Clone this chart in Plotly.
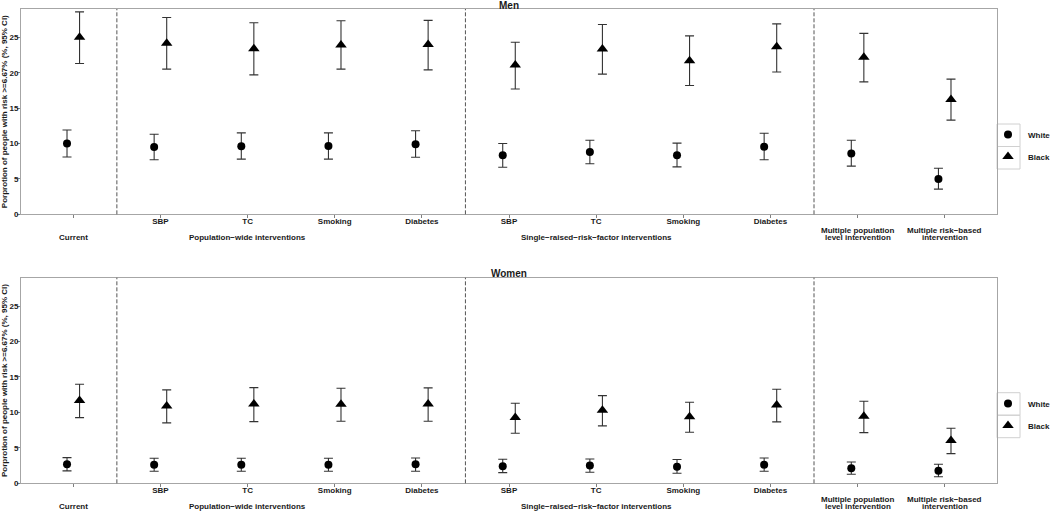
import plotly.graph_objects as go

# x categories (first tick line), in plot order
tick_labels = ["", "SBP", "TC", "Smoking", "Diabetes", "SBP", "TC", "Smoking", "Diabetes", "", ""]
# extra label lines under the ticks: (category index, line number, text)
extra_labels = [
    (0, 3, "Current"),
    (2, 3, "Population\u2212wide interventions"),
    (6, 3, "Single\u2212raised\u2212risk\u2212factor interventions"),
    (9, 2, "Multiple population"),
    (9, 3, "level intervention"),
    (10, 2, "Multiple risk\u2212based"),
    (10, 3, "intervention"),
]
group_breaks = [0.5, 4.5, 8.5]

# Men
men_white = [10.0, 9.5, 9.6, 9.65, 9.9, 8.33, 8.8, 8.33, 9.55, 8.6, 5.0]
men_white_lo = [8.1, 7.7, 7.8, 7.8, 8.05, 6.65, 7.15, 6.7, 7.7, 6.8, 3.55]
men_white_hi = [11.9, 11.3, 11.5, 11.5, 11.8, 10.0, 10.45, 10.05, 11.45, 10.45, 6.5]
men_black = [25.0, 24.15, 23.4, 23.9, 24.0, 21.1, 23.35, 21.7, 23.65, 22.2, 16.2]
men_black_lo = [21.3, 20.5, 19.7, 20.5, 20.4, 17.7, 19.8, 18.2, 20.1, 18.7, 13.3]
men_black_hi = [28.6, 27.8, 27.05, 27.35, 27.4, 24.3, 26.8, 25.2, 26.9, 25.55, 19.1]

# Women
women_white = [2.7, 2.63, 2.63, 2.63, 2.68, 2.4, 2.5, 2.35, 2.63, 2.12, 1.78]
women_white_lo = [1.75, 1.7, 1.7, 1.7, 1.7, 1.5, 1.55, 1.42, 1.7, 1.27, 0.93]
women_white_hi = [3.62, 3.53, 3.53, 3.53, 3.57, 3.4, 3.43, 3.35, 3.57, 3.0, 2.68]
women_black = [11.67, 10.92, 11.2, 11.15, 11.2, 9.27, 10.3, 9.4, 11.06, 9.46, 6.02]
women_black_lo = [9.27, 8.52, 8.7, 8.75, 8.75, 7.06, 8.1, 7.2, 8.66, 7.15, 4.18]
women_black_hi = [13.98, 13.18, 13.5, 13.4, 13.46, 11.3, 12.37, 11.43, 13.27, 11.58, 7.77]

y_title = "Porprotion of people with risk >=6.67% (%, 95% CI)"

W, H = 1050, 512
FONT = "Liberation Sans"
TXT = "#1a1a1a"
dodge = 0.072
line_offsets = {2: 16.0, 3: 23.5}  # px below the axis line

panels = [
    ("Men", "x", "y", "legend", men_white, men_white_lo, men_white_hi,
     men_black, men_black_lo, men_black_hi),
    ("Women", "x2", "y2", "legend2", women_white, women_white_lo, women_white_hi,
     women_black, women_black_lo, women_black_hi),
]

fig = go.Figure()
idx = list(range(len(tick_labels)))

for name, xa, ya, leg, wm, wl, wh, bm, bl, bh in panels:
    for race, m, lo, hi, sym, size, off in [
        ("White", wm, wl, wh, "circle", 8, -dodge),
        ("Black", bm, bl, bh, "triangle-up", 10, dodge),
    ]:
        fig.add_trace(go.Scatter(
            x=[i + off for i in idx], y=m, mode="markers",
            xaxis=xa, yaxis=ya, name=race, legend=leg,
            legendgroup=name + race,
            marker=dict(symbol=sym, size=size, color="black"),
            error_y=dict(type="data", symmetric=False,
                         array=[h - v for h, v in zip(hi, m)],
                         arrayminus=[v - l for v, l in zip(m, lo)],
                         color="#333333", thickness=1.1, width=4.5),
        ))

# panel geometry (px from top)
top_box = (9, 214.3)
bot_box = (277.7, 483.3)
xdom = [21 / W, 997 / W]


def ydom(b):
    return [1 - b[1] / H, 1 - b[0] / H]


axis_common = dict(showline=True, mirror=True, linecolor="#a6a6a6", linewidth=1,
                   showgrid=False, zeroline=False, ticks="outside", ticklen=3,
                   tickcolor="#7f7f7f",
                   tickfont=dict(family=FONT, size=8, color=TXT, weight="bold"))

leg_common = dict(xanchor="left", yanchor="top", traceorder="grouped",
                  tracegroupgap=3, itemwidth=30, bgcolor="rgba(0,0,0,0)",
                  font=dict(family=FONT, size=8, color=TXT, weight="bold"))

fig.update_layout(
    width=W, height=H,
    margin=dict(l=0, r=0, t=0, b=0, autoexpand=False),
    plot_bgcolor="white", paper_bgcolor="white",
    xaxis=dict(domain=xdom, anchor="y", range=[-0.6, 10.6], ticklabelstandoff=-4,
               tickvals=idx, ticktext=tick_labels, **axis_common),
    yaxis=dict(domain=ydom(top_box), anchor="x", range=[0, 29], ticklabelstandoff=-3,
               tickvals=[0, 5, 10, 15, 20, 25], **axis_common),
    xaxis2=dict(domain=xdom, anchor="y2", range=[-0.6, 10.6], ticklabelstandoff=-4,
                tickvals=idx, ticktext=tick_labels, **axis_common),
    yaxis2=dict(domain=ydom(bot_box), anchor="x2", range=[0, 29], ticklabelstandoff=-3,
                tickvals=[0, 5, 10, 15, 20, 25], **axis_common),
    legend=dict(x=988 / W, y=1 - 120 / H, **leg_common),
    legend2=dict(x=988 / W, y=1 - 389 / H, **leg_common),
)

lab_font = dict(family=FONT, size=8, color=TXT, weight="bold")
for (name, xa, ya, *_), box in zip(panels, [top_box, bot_box]):
    # dashed separators between intervention groups
    for b in group_breaks:
        fig.add_shape(type="line", xref=xa, yref=ya + " domain", x0=b, x1=b, y0=0, y1=1,
                      line=dict(color="#555555", width=1, dash="4px,2px"))
    # panel title
    fig.add_annotation(text=name, xref=xa + " domain", yref=ya + " domain", x=0.5, y=1,
                       yanchor="middle", yshift=4, showarrow=False,
                       font=dict(family=FONT, size=10, color=TXT, weight="bold"))
    # y-axis title
    fig.add_annotation(text=y_title, xref="paper", yref=ya + " domain", x=4.5 / W, y=0.5,
                       textangle=-90, showarrow=False, xanchor="center", yanchor="middle",
                       font=lab_font)
    # second and third label lines
    for i, line, t in extra_labels:
        fig.add_annotation(text=t, xref=xa, yref=ya + " domain", x=i, y=0,
                           yanchor="middle", yshift=-line_offsets[line],
                           showarrow=False, font=lab_font)
    # legend key boxes
    ltop = box[0] + 115
    for k in range(2):
        fig.add_shape(type="rect", xref="paper", yref="paper",
                      x0=997 / W, x1=1020 / W,
                      y0=1 - (ltop + 22.5 * (k + 1)) / H, y1=1 - (ltop + 22.5 * k) / H,
                      line=dict(color="#d0d0d0", width=1), layer="below")

fig.write_html(
    "out.html",
    config={"displayModeBar": False},
    post_script=("document.body.style.margin='0';"
                 "document.documentElement.style.overflow='hidden';"
                 "document.body.style.overflow='hidden';"
                 "document.getElementById('{plot_id}').style.overflow='hidden';"),
)
